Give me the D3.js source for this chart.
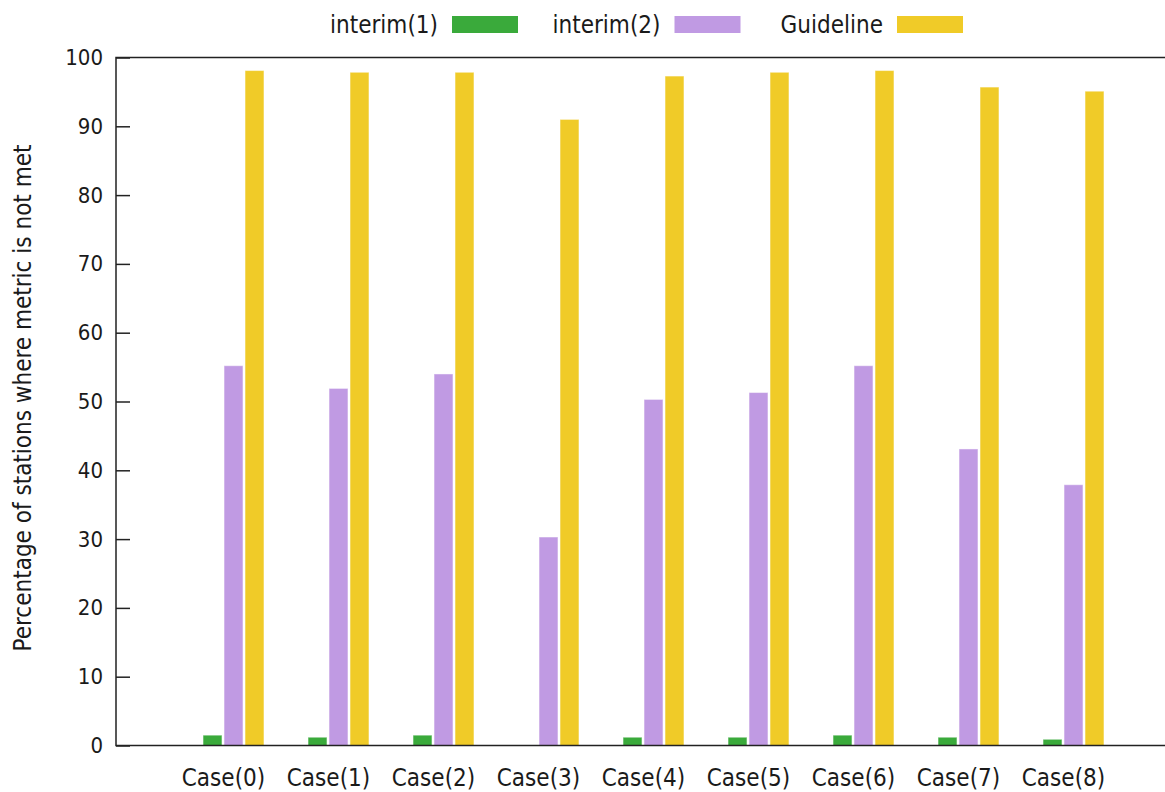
<!DOCTYPE html>
<html>
<head>
<meta charset="utf-8">
<title>Percentage of stations where metric is not met</title>
<script src="https://cdn.jsdelivr.net/npm/d3@7"></script>
<style>
  html, body { margin: 0; padding: 0; background: #fff; }
  svg { display: block; }
  text {
    font-family: 'DejaVu Sans Condensed', 'DejaVu Sans', sans-serif;
    font-stretch: condensed;
    font-size: 24px;
    fill: #1a1a1a;
  }
  .tick text { font-size: 22px; }
</style>
</head>
<body>
<svg id="chart"></svg>
<script>

/*
 * Chart data.
 */

var cases = ['Case(0)', 'Case(1)', 'Case(2)', 'Case(3)', 'Case(4)',
  'Case(5)', 'Case(6)', 'Case(7)', 'Case(8)'];

var series = ['interim(1)', 'interim(2)', 'Guideline'];

var interim1 = [1.5, 1.2, 1.5, 0, 1.2, 1.2, 1.5, 1.2, 0.9];
var interim2 = [55.2, 51.9, 54.0, 30.3, 50.3, 51.3, 55.2, 43.1, 37.9];
var guideline = [98.1, 97.85, 97.85, 91.0, 97.3, 97.85, 98.1, 95.7, 95.1];

var yTicks = [0, 10, 20, 30, 40, 50, 60, 70, 80, 90, 100];

var yTitle = 'Percentage of stations where metric is not met';

/*
 * Layout.
 */

var width = 1165;
var height = 792;
var colors = ['#3aaa3b', '#c09ae3', '#f0cb28'];
var values = [interim1, interim2, guideline];

var frame = { left: 116, top: 57.5, bottom: 745.5, right: 1175 };

var svg = d3.select('#chart')
  .attr('width', width)
  .attr('height', height);

// Scales.
var x = d3.scaleBand()
  .domain(cases)
  .range([181, 181 + 105 * cases.length]);

var xInner = d3.scaleBand()
  .domain(series)
  .range([21, 84])
  .paddingInner(0.1)
  .paddingOuter(0.05);

var y = d3.scaleLinear()
  .domain([0, 100])
  .range([frame.bottom, frame.top]);

/*
 * Bars.
 */

var rows = [];
cases.forEach(function(c, i) {
  series.forEach(function(s, j) {
    rows.push({ c: c, s: s, v: values[j][i], color: colors[j] });
  });
});

svg.append('g')
  .selectAll('rect')
  .data(rows.filter(function(d) { return d.v > 0; }))
  .join('rect')
  .attr('x', function(d) { return x(d.c) + xInner(d.s); })
  .attr('y', function(d) { return y(d.v); })
  .attr('width', xInner.bandwidth())
  .attr('height', function(d) { return y(0) - y(d.v); })
  .attr('fill', function(d) { return d.color; })
  .attr('stroke', 'rgba(255,255,255,0.45)')
  .attr('stroke-width', 1);

/*
 * Axes and frame.
 */

var yAxis = svg.append('g')
  .attr('transform', 'translate(' + frame.left + ',0)')
  .call(d3.axisLeft(y)
    .tickValues(yTicks)
    .tickSizeInner(-14)
    .tickSizeOuter(0)
    .tickPadding(13));

yAxis.select('.domain').remove();
yAxis.selectAll('line').attr('stroke', '#222').attr('stroke-width', 1.5);
yAxis.selectAll('text').attr('fill', '#1a1a1a');
yAxis.attr('font-size', null).attr('font-family', null);

// Frame: left, top, bottom.
svg.append('path')
  .attr('d', 'M' + frame.right + ',' + frame.top +
    'H' + frame.left + 'V' + frame.bottom + 'H' + frame.right)
  .attr('fill', 'none')
  .attr('stroke', '#222')
  .attr('stroke-width', 1.5);

// Category labels.
svg.append('g')
  .selectAll('text')
  .data(cases)
  .join('text')
  .attr('x', function(d) { return x(d) + x.bandwidth() / 2 - 10; })
  .attr('y', frame.bottom + 32)
  .attr('dy', '0.35em')
  .attr('text-anchor', 'middle')
  .text(function(d) { return d; });

// Axis title.
svg.append('text')
  .attr('transform', 'translate(23,398) rotate(-90)')
  .attr('dy', '0.35em')
  .attr('text-anchor', 'middle')
  .text(yTitle);

/*
 * Legend.
 */

var legend = svg.append('g')
  .selectAll('g')
  .data(series)
  .join('g')
  .attr('transform', function(d, i) {
    return 'translate(' + (452 + i * 222.5) + ',0)';
  });

legend.append('rect')
  .attr('x', 0)
  .attr('y', 16)
  .attr('width', 66)
  .attr('height', 17)
  .attr('fill', function(d, i) { return colors[i]; });

legend.append('text')
  .attr('x', -14)
  .attr('y', 25)
  .attr('dy', '0.35em')
  .attr('text-anchor', 'end')
  .text(function(d) { return d; });

</script>
</body>
</html>
